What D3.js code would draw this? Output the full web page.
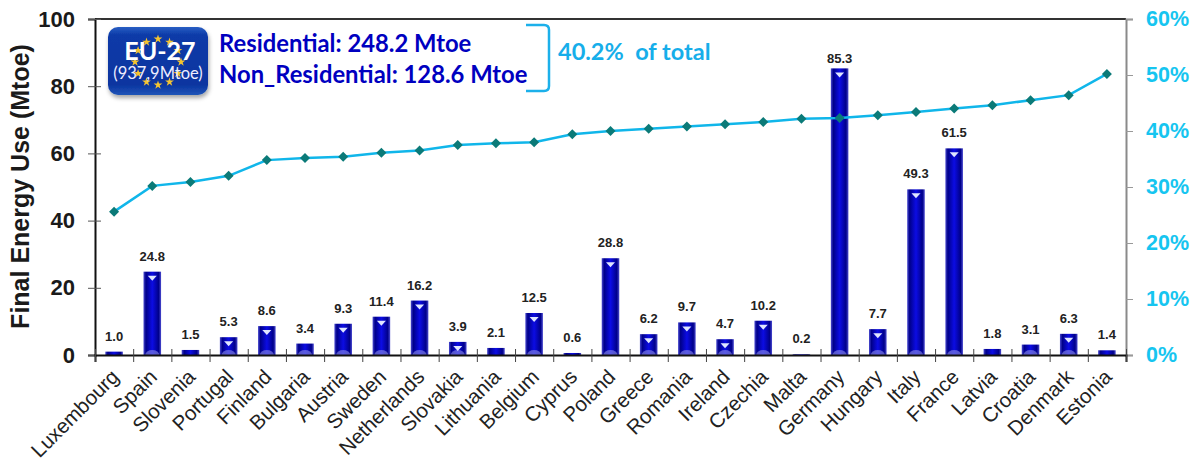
<!DOCTYPE html>
<html>
<head>
<meta charset="utf-8">
<script src="https://cdn.jsdelivr.net/npm/d3@7"></script>
<style>
  html, body { margin: 0; padding: 0; background: #fff; }
  svg { display: block; }
  text { font-family: "Liberation Sans", Arial, sans-serif; }
</style>
</head>
<body>
<div id="view"></div>
<script>
// ---------- Data ----------
const countries = ["Luxembourg","Spain","Slovenia","Portugal","Finland","Bulgaria","Austria","Sweden","Netherlands","Slovakia","Lithuania","Belgium","Cyprus","Poland","Greece","Romania","Ireland","Czechia","Malta","Germany","Hungary","Italy","France","Latvia","Croatia","Denmark","Estonia"];
const energyUse = [1.0,24.8,1.5,5.3,8.6,3.4,9.3,11.4,16.2,3.9,2.1,12.5,0.6,28.8,6.2,9.7,4.7,10.2,0.2,85.3,7.7,49.3,61.5,1.8,3.1,6.3,1.4];
const cumulative = [25.6,30.2,30.9,32.0,34.8,35.2,35.4,36.1,36.5,37.5,37.8,38.0,39.4,40.0,40.4,40.8,41.2,41.6,42.2,42.3,42.8,43.4,44.0,44.6,45.5,46.4,50.2];
const leftTicks = [0,20,40,60,80,100];
const rightTicks = [0,10,20,30,40,50,60];
const badgeTitle = "EU-27";
const badgeSub = "(937,9Mtoe)";
const noteLines = ["Residential: 248.2 Mtoe", "Non_Residential: 128.6 Mtoe"];
const noteShare = "40.2%  of total";

// ---------- Layout ----------
const W = 1196, H = 464;
const M = { t: 19, r: 70, b: 109, l: 95 };
const w = W - M.l - M.r;
const h = H - M.t - M.b;
const BLUE = "#0000c0", CYAN = "#16c5f0";

const svg = d3.select("#view").append("svg").attr("width", W).attr("height", H);
const defs = svg.append("defs");

const barGrad = defs.append("linearGradient").attr("id", "barGrad");
barGrad.append("stop").attr("offset", "0%").attr("stop-color", "#4a4ad0");
barGrad.append("stop").attr("offset", "14%").attr("stop-color", "#00008a");
barGrad.append("stop").attr("offset", "50%").attr("stop-color", "#0c0ce4");
barGrad.append("stop").attr("offset", "86%").attr("stop-color", "#00008a");
barGrad.append("stop").attr("offset", "100%").attr("stop-color", "#4a4ad0");

const badgeGrad = defs.append("linearGradient").attr("id", "badgeGrad").attr("x2", 0).attr("y2", 1);
badgeGrad.append("stop").attr("offset", "0%").attr("stop-color", "#2a5fc4");
badgeGrad.append("stop").attr("offset", "12%").attr("stop-color", "#0b3aa8");
badgeGrad.append("stop").attr("offset", "85%").attr("stop-color", "#0a35a0");
badgeGrad.append("stop").attr("offset", "100%").attr("stop-color", "#1f55b8");

const shadow = defs.append("filter").attr("id", "soft").attr("x", "-20%").attr("y", "-20%").attr("width", "140%").attr("height", "140%");
shadow.append("feDropShadow").attr("dx", 1).attr("dy", 3).attr("stdDeviation", 2).attr("flood-color", "#000").attr("flood-opacity", 0.35);

const g = svg.append("g").attr("transform", `translate(${M.l},${M.t})`);

// ---------- Scales ----------
const x = d3.scaleBand().domain(countries).range([0, w]).paddingInner(0.54).paddingOuter(0.27);
const xMid = d => x(d) + x.bandwidth() / 2;
const y = d3.scaleLinear().domain([0, 100]).range([h, 0]);
const yR = d3.scaleLinear().domain([0, 60]).range([h, 0]);
const xEdge = d3.scaleLinear().domain([0, countries.length]).range([0, w]); // ticks between the bars

// ---------- Frame & axes ----------
g.append("line").attr("x1", 0).attr("x2", w).attr("y1", 0).attr("y2", 0).attr("stroke", "#333").attr("stroke-width", 2);

const axL = g.append("g").call(d3.axisLeft(y).tickValues(leftTicks).tickSize(7).tickPadding(13));
axL.select(".domain").attr("stroke", "#111").attr("stroke-width", 2);
axL.selectAll(".tick line").attr("stroke", "#555").attr("x1", -7).attr("x2", 6);
axL.selectAll("text").style("font-size", "22px").style("font-weight", "700").attr("fill", "#1a1a1a").attr("font-family", "Liberation Sans");

const axR = g.append("g").attr("transform", `translate(${w},0)`)
  .call(d3.axisRight(yR).tickValues(rightTicks).tickSize(7).tickPadding(13).tickFormat(d => d + "%"));
axR.select(".domain").attr("stroke", "#8a8a8a").attr("stroke-width", 2);
axR.selectAll(".tick line").attr("stroke", "#999");
axR.selectAll("text").style("font-size", "21.5px").style("font-weight", "700").attr("fill", CYAN).attr("font-family", "Liberation Sans");

// ---------- Bars ----------
const bars = g.selectAll("g.bar").data(countries).join("g").attr("class", "bar");
bars.append("rect")
  .attr("x", d => x(d))
  .attr("y", (d, i) => y(energyUse[i]))
  .attr("width", x.bandwidth())
  .attr("height", (d, i) => h - y(energyUse[i]))
  .attr("fill", "url(#barGrad)");

// Bottom highlight
bars.filter((d, i) => energyUse[i] >= 3).append("path")
  .attr("d", d => {
    const r = x.bandwidth() * 0.4;
    return `M${xMid(d) - r},${h} a${r},${r * 0.7} 0 0 1 ${2 * r},0 Z`;
  })
  .attr("fill", "#8f8fe8").attr("opacity", 0.6);

// Small light triangle at the top of the bar
bars.filter((d, i) => energyUse[i] >= 3.9).append("path")
  .attr("d", d => {
    const top = y(energyUse[countries.indexOf(d)]);
    return `M${xMid(d) - 4.5},${top + 4} h9 l-4.5,5 Z`;
  })
  .attr("fill", "#dfe6ff");

// Value labels (Germany sits closer to its bar, as in the source)
g.selectAll("text.val").data(countries).join("text")
  .attr("class", "val")
  .attr("x", xMid)
  .attr("y", (d, i) => y(energyUse[i]) - (d === "Germany" ? 5 : 11))
  .attr("text-anchor", "middle")
  .style("font-size", "13px")
  .style("font-weight", "700")
  .attr("fill", "#222")
  .text((d, i) => energyUse[i].toFixed(1));

// ---------- Bottom axis, ticks only ----------
const axB = g.append("g").attr("transform", `translate(0,${h})`)
  .call(d3.axisBottom(xEdge).tickValues(d3.range(countries.length + 1)).tickSize(7).tickFormat(""));
axB.select(".domain").attr("stroke", "#111").attr("stroke-width", 2);
axB.selectAll(".tick line").attr("stroke", "#444").attr("y1", -6);

// ---------- Cumulative line ----------
const line = d3.line().x((d, i) => xMid(countries[i])).y(d => yR(d));
g.append("path").datum(cumulative)
  .attr("d", line).attr("fill", "none").attr("stroke", "#10b6ea").attr("stroke-width", 2.5);
g.selectAll("path.pt").data(cumulative).join("path")
  .attr("class", "pt")
  .attr("transform", (d, i) => `translate(${xMid(countries[i])},${yR(d)}) rotate(45)`)
  .attr("d", d3.symbol().type(d3.symbolSquare).size(50))
  .attr("fill", "#0b7a78");

// ---------- X labels ----------
g.selectAll("text.cat").data(countries).join("text")
  .attr("class", "cat")
  .attr("transform", d => `translate(${xMid(d) + 1},${h + 18}) rotate(-45)`)
  .attr("text-anchor", "end")
  .attr("dy", "0.35em")
  .style("font-size", "20.5px")
  .attr("fill", "#222")
  .text(d => d);

// ---------- Y title ----------
svg.append("text")
  .attr("transform", `translate(29,186.5) rotate(-90)`)
  .attr("text-anchor", "middle")
  .style("font-size", "25px")
  .style("font-weight", "700")
  .attr("fill", "#1a1a1a")
  .text("Final Energy Use (Mtoe)");

// ---------- EU badge ----------
const badge = svg.append("g").attr("transform", "translate(108,27)");
const bw = 100, bh = 68;
badge.append("rect").attr("width", bw).attr("height", bh).attr("rx", 10)
  .attr("fill", "url(#badgeGrad)").attr("filter", "url(#soft)");
const angles = d3.range(12).map(i => i * Math.PI / 6);
badge.selectAll("path.star").data(angles).join("path")
  .attr("class", "star")
  .attr("transform", a => `translate(${bw / 2 + 23 * Math.sin(a)},${bh / 2 + 1 - 23 * Math.cos(a)})`)
  .attr("d", d3.symbol().type(d3.symbolStar).size(24))
  .attr("fill", "#f4c430");
badge.append("text").attr("x", bw / 2 + 2).attr("y", 33).attr("text-anchor", "middle")
  .style("font-family", "Lato").style("font-size", "25px").style("font-weight", "700")
  .attr("fill", "#fff").text(badgeTitle);
badge.append("text").attr("x", bw / 2).attr("y", 52).attr("text-anchor", "middle")
  .style("font-family", "Lato").style("font-size", "16.5px")
  .attr("fill", "#eef").text(badgeSub);

// ---------- Notes ----------
svg.selectAll("text.note").data(noteLines).join("text")
  .attr("class", "note")
  .attr("x", 219)
  .attr("y", (d, i) => 52 + i * 31)
  .style("font-family", "Lato").style("font-size", "23.8px").style("font-weight", "700")
  .attr("fill", BLUE)
  .text(d => d);

svg.append("path")
  .attr("d", "M526,25 H544 Q549,25 549,30 V86 Q549,91 544,91 H526")
  .attr("fill", "none").attr("stroke", "#1cb0ea").attr("stroke-width", 2.5);

svg.append("text").attr("x", 558).attr("y", 60)
  .style("font-family", "Lato").style("font-size", "23.5px").style("font-weight", "700")
  .style("white-space", "pre")
  .attr("fill", "#16aeea").text(noteShare);
</script>
</body>
</html>
